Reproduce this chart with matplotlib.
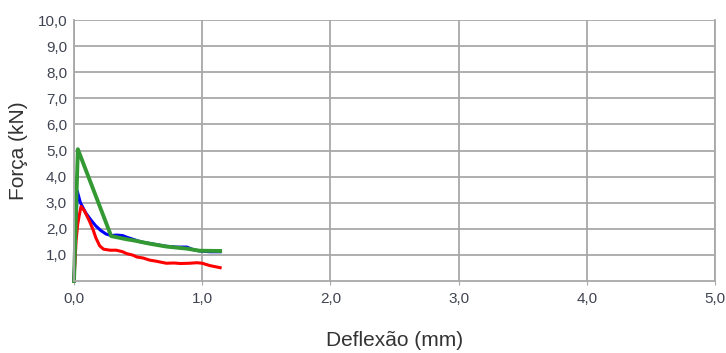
import matplotlib
matplotlib.use("Agg")
import matplotlib.pyplot as plt

plt.rcParams['font.family'] = ['Liberation Sans', 'DejaVu Sans']

# Series: deflection (mm), force (kN)
green_x = [0.0, 0.03, 0.29, 0.41, 0.46, 0.59, 0.72, 0.88, 0.98, 1.14]
green_y = [0.0, 5.05, 1.72, 1.60, 1.56, 1.43, 1.32, 1.24, 1.16, 1.15]

blue_x = [0.0, 0.025, 0.05, 0.09, 0.13, 0.17, 0.21, 0.25, 0.29, 0.33, 0.38, 0.41, 0.46, 0.52, 0.59, 0.66, 0.72, 0.80, 0.88, 0.93, 0.98, 1.06, 1.14]
blue_y = [0.0, 3.45, 3.00, 2.62, 2.35, 2.11, 1.93, 1.80, 1.74, 1.76, 1.74, 1.68, 1.60, 1.50, 1.44, 1.38, 1.33, 1.30, 1.30, 1.20, 1.15, 1.12, 1.12]

red_x = [0.0, 0.016, 0.029, 0.045, 0.055, 0.08, 0.12, 0.15, 0.17, 0.20, 0.23, 0.28, 0.33, 0.38, 0.41, 0.46, 0.49, 0.54, 0.59, 0.64, 0.72, 0.78, 0.83, 0.90, 0.96, 1.00, 1.06, 1.10, 1.14]
red_y = [0.0, 1.53, 2.18, 2.62, 2.86, 2.70, 2.30, 1.95, 1.66, 1.35, 1.22, 1.18, 1.18, 1.12, 1.05, 0.99, 0.92, 0.88, 0.80, 0.76, 0.68, 0.69, 0.67, 0.68, 0.70, 0.68, 0.59, 0.55, 0.51]

x_ticks = [0, 1, 2, 3, 4, 5]
x_ticklabels = ["0,0", "1,0", "2,0", "3,0", "4,0", "5,0"]
y_ticks = [1, 2, 3, 4, 5, 6, 7, 8, 9, 10]
y_ticklabels = ["1,0", "2,0", "3,0", "4,0", "5,0", "6,0", "7,0", "8,0", "9,0", "10,0"]

fig = plt.figure(figsize=(7.26, 3.53), dpi=100)
ax = fig.add_axes([74/726, 1 - 281/353, (715-74)/726, (281-20)/353])

grid_c = '#a8a8a8'
ax.set_xlim(0, 5)
ax.set_ylim(0, 10)
ax.set_xticks(x_ticks)
ax.set_xticklabels(x_ticklabels)
ax.set_yticks(y_ticks)
ax.set_yticklabels(y_ticklabels)
ax.grid(True, color=grid_c, linewidth=1.3)
ax.set_axisbelow(True)
for s in ['left', 'bottom', 'right']:
    ax.spines[s].set_color(grid_c)
    ax.spines[s].set_linewidth(1.3)
ax.spines['top'].set_visible(False)
ax.tick_params(axis='x', length=3, color=grid_c, labelsize=11, labelcolor='#404452', pad=5)
ax.tick_params(axis='y', length=0, labelsize=11, labelcolor='#404452', pad=5)

ax.plot(blue_x, blue_y, color='#0000ff', linewidth=2.2, solid_joinstyle='round', clip_on=False)
ax.plot(red_x, red_y, color='#ff0000', linewidth=2.2, solid_joinstyle='round', clip_on=False)
ax.plot(green_x, green_y, color='#339933', linewidth=2.8, solid_joinstyle='round', clip_on=False)

ax.set_xlabel("Deflexão (mm)", fontsize=15, color='#333333', labelpad=18)
ax.set_ylabel("Força (kN)", fontsize=15, color='#333333', labelpad=7)

fig.savefig("out.png", dpi=100)
